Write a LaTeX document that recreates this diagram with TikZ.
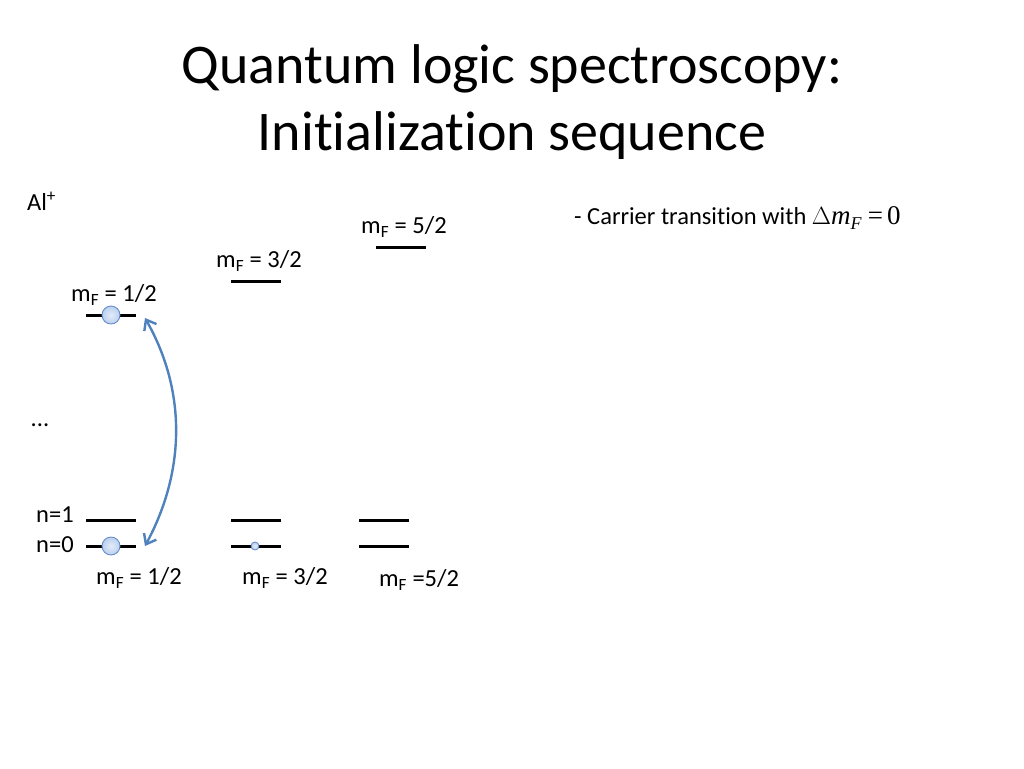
\documentclass[tikz,border=0pt]{standalone}
\usepackage{fontspec}
\setmainfont{Carlito}[Ligatures=NoCommon]
\newfontfamily\mathserif{Liberation Serif}
\usetikzlibrary{arrows.meta}
\definecolor{arrowblue}{HTML}{4F81BD}
\definecolor{ballfill}{HTML}{B9CFEF}
\definecolor{ballline}{HTML}{5F88C4}
\begin{document}
\begin{tikzpicture}[x=1pt,y=-1pt,
  level/.style={line width=3pt},
  lbl/.style={font=\fontsize{24.5}{29}\selectfont, inner sep=0pt},
  ball/.style={circle, draw=ballline, line width=0.8pt, inner sep=0pt, inner color=white!60!ballfill, outer color=ballfill},
  trans/.style={arrowblue, line width=2.4pt, {Straight Barb[length=9pt,width=14pt]}-{Straight Barb[length=9pt,width=14pt]}}]
\useasboundingbox (0,0) rectangle (1024,768);
% title
\node[font=\fontsize{56}{67}\selectfont, align=center, inner sep=0pt] (title) at (512,102) {Quantum logic spectroscopy:\\Initialization sequence};
\node[lbl, anchor=west] (al) at (27,201) {Al\textsuperscript{+}};
% upper levels
\coordinate (u1a) at (86,315); \coordinate (u1b) at (136,315);
\draw[level] (u1a) -- (u1b);
\node[lbl] (ul1) at (114,295) {m\textsubscript{F} = 1/2};
\coordinate (u2a) at (231,281); \coordinate (u2b) at (281,281);
\draw[level] (u2a) -- (u2b);
\node[lbl] (ul2) at (259,261) {m\textsubscript{F} = 3/2};
\coordinate (u3a) at (376,247); \coordinate (u3b) at (426,247);
\draw[level] (u3a) -- (u3b);
\node[lbl] (ul3) at (404,227) {m\textsubscript{F} = 5/2};
\node[ball, minimum size=18pt] (b1) at (111,315) {};
% dots
\node[lbl] (dots) at (40,425) {...};
% lower levels
\node[lbl, anchor=west] (n1) at (36,515) {n=1};
\node[lbl, anchor=west] (n0) at (36,545) {n=0};
\draw[level] (86,520) -- (136,520);
\draw[level] (86,546) -- (136,546);
\draw[level] (231,520) -- (281,520);
\draw[level] (231,546) -- (281,546);
\draw[level] (359,520) -- (409,520);
\draw[level] (359,546) -- (409,546);
\node[ball, minimum size=18pt] (b0) at (111,546) {};
\node[ball, minimum size=8pt] (b2) at (255,546) {};
\node[lbl] (ll1) at (139,578) {m\textsubscript{F} = 1/2};
\node[lbl] (ll2) at (285,578) {m\textsubscript{F} = 3/2};
\node[lbl] (ll3) at (419,580) {m\textsubscript{F} =5/2};
% transition arrow
\coordinate (ta) at (145,318);
\coordinate (tb) at (145,546);
\draw[trans] (ta) .. controls (186,390) and (186,470) .. (tb);
% text
\node[lbl, anchor=west] (carrier) at (574,218) {- Carrier transition with \mathserif\fontsize{27}{32}\selectfont $\Delta$\textit{m}\raisebox{-5pt}{\fontsize{18}{22}\selectfont\textit{F}}\hspace{6pt}=\hspace{4pt}0};
\end{tikzpicture}
\end{document}
